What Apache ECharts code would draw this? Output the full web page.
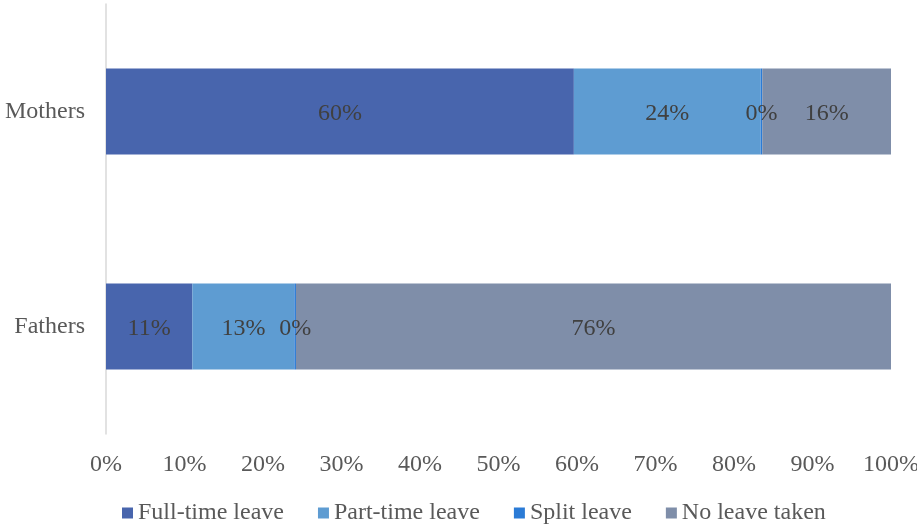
<!DOCTYPE html>
<html>
<head>
<meta charset="utf-8">
<script src="https://cdn.jsdelivr.net/npm/echarts@6/dist/echarts.min.js"></script>
<style>
  html, body { margin: 0; padding: 0; background: #fff; }
  #chart { width: 917px; height: 524px; }
</style>
</head>
<body>
<div id="chart"></div>
<script>
// Share of parents by type of parental leave taken (percent)
const categories = ['Mothers', 'Fathers'];
const seriesNames = ['Full-time leave', 'Part-time leave', 'Split leave', 'No leave taken'];
const fullTime = [59.6, 11.0];
const partTime = [23.8, 13.0];
const splitLeave = [0.2, 0.2];
const noLeave = [16.4, 75.8];
const xTicks = [0, 10, 20, 30, 40, 50, 60, 70, 80, 90, 100];

const colors = ['#4865AD', '#5E9CD2', '#2B7BD6', '#7F8EA9'];
const values = [fullTime, partTime, splitLeave, noLeave];
const font = '"Liberation Serif", "Times New Roman", serif';
const fs = 24;

const chart = echarts.init(document.getElementById('chart'));
chart.setOption({
  animation: false,
  textStyle: { fontFamily: font },
  grid: { left: 106, right: 26, top: 4, bottom: 90, outerBoundsMode: 'none', containLabel: false },
  xAxis: {
    type: 'value',
    min: xTicks[0],
    max: xTicks[xTicks.length - 1],
    interval: 10,
    axisLine: { show: false },
    axisTick: { show: false },
    splitLine: { show: false },
    axisLabel: {
      formatter: '{value}%',
      fontFamily: font,
      fontSize: fs,
      color: '#595959',
      margin: 19
    }
  },
  yAxis: {
    type: 'category',
    data: categories,
    inverse: true,
    axisLine: { show: true, lineStyle: { color: '#D9D9D9', width: 1.5 } },
    axisTick: { show: false },
    axisLabel: {
      fontFamily: font,
      fontSize: fs,
      color: '#595959',
      margin: 21
    }
  },
  legend: {
    data: seriesNames,
    left: 117,
    bottom: -6,
    icon: 'rect',
    itemWidth: 11,
    itemHeight: 11,
    itemGap: 34,
    textStyle: { fontFamily: font, fontSize: fs, color: '#595959' }
  },
  series: seriesNames.map((name, i) => ({
    name: name,
    type: 'bar',
    stack: 'total',
    barWidth: '40%',
    data: values[i],
    itemStyle: { color: colors[i] },
    label: {
      show: true,
      position: 'inside',
      offset: [0, 2],
      formatter: p => Math.round(p.value) + '%',
      fontFamily: font,
      fontSize: fs,
      color: '#404040'
    }
  }))
});
</script>
</body>
</html>
